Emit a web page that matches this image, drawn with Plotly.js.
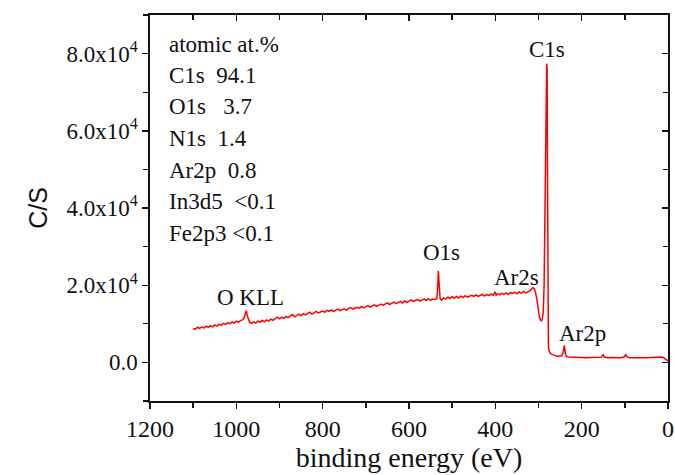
<!DOCTYPE html>
<html>
<head>
<meta charset="utf-8">
<script src="https://cdn.plot.ly/plotly-3.0.1.min.js"></script>
<style>
html,body{margin:0;padding:0;background:#fff;}
#chart{width:675px;height:475px;}
#chart text{font-family:"Liberation Serif","Times New Roman",serif !important;}
#chart .g-ytitle text{font-family:"Liberation Sans",Arial,sans-serif !important;}
</style>
</head>
<body>
<div id="chart"></div>
<script>
// binding energy (eV)
const energy = [
1100,1095,1090,1085,1080,1075,1070,1065,1060,1055,1050,1045,1040,1035,1030,1025,1020,1015,1010,1005,
1000,995,990,985,982,979,977,975,972,969,965,960,955,950,945,940,935,930,925,920,915,910,905,900,
895,890,885,880,875,870,865,860,855,850,845,840,835,830,825,820,815,810,805,800,795,790,785,780,
775,770,765,760,755,750,745,740,735,730,725,720,715,710,705,700,695,690,685,680,675,670,665,660,
655,650,645,640,635,630,625,620,615,610,605,600,595,590,585,580,575,570,565,560,555,550,545,540,
536,534,532,530,528,525,520,515,510,505,500,495,490,485,480,475,470,465,460,455,450,445,440,435,
430,425,420,415,410,405,401,398,395,390,385,380,375,370,365,360,355,350,345,340,335,330,325,320,
316,313,310,307,304,301,298,295,293,291,289,287,285,283,281,280,279,278,277,275,272,268,264,260,
255,250,246,243,240,238,235,230,220,210,200,190,180,170,160,155,152,150,148,140,130,120,110,102,
98,95,90,80,70,60,50,40,30,22,15,10,5,2,0];
// counts per second (x10^3)
const countsK = [
8.8,8.6,9.1,8.8,9.2,8.9,9.4,9.1,9.5,9.2,9.7,9.4,9.9,9.6,10.1,9.8,10.3,10.0,10.5,10.2,
10.7,10.4,10.9,11.0,11.6,13.0,13.4,12.2,11.0,10.3,10.1,10.5,10.2,10.7,10.4,10.9,10.5,11.0,10.7,11.2,10.9,11.4,11.7,11.3,
11.7,11.4,11.9,11.6,12.1,12.4,11.8,12.2,12.5,12.1,12.6,12.3,12.7,13.0,12.5,12.9,13.2,12.8,13.1,13.3,13.0,13.5,13.2,13.6,
13.2,13.5,13.8,13.4,13.7,13.9,13.5,14.0,14.2,13.8,14.1,14.3,14.0,14.5,14.1,14.4,14.7,14.3,14.6,14.9,14.5,14.8,15.1,14.8,
15.1,15.4,15.0,15.3,15.6,15.2,15.5,15.8,15.4,15.9,15.5,15.9,16.2,15.8,16.1,16.3,15.9,16.2,16.4,16.1,16.5,16.1,16.4,16.3,
16.5,18.5,23.7,20.0,16.6,16.1,16.7,16.4,16.9,16.5,17.0,16.6,17.1,16.7,17.2,16.8,17.3,16.9,17.2,17.4,17.1,17.5,17.1,17.4,
17.6,17.2,17.6,17.3,17.7,17.4,18.3,17.4,17.8,17.5,17.9,17.6,18.0,17.6,18.1,17.8,18.2,17.8,18.3,17.9,18.4,18.0,18.3,18.5,
19.0,19.4,19.1,18.2,16.5,14.0,11.8,10.9,10.8,11.4,13.0,20.0,38.0,62.0,77.4,76.0,45.0,12.0,4.0,2.8,2.3,2.0,1.8,1.7,
1.6,1.6,1.7,2.5,4.4,2.3,1.5,1.4,1.3,1.3,1.25,1.2,1.25,1.2,1.2,1.3,1.8,2.0,1.4,1.2,1.25,1.2,1.2,1.4,
2.0,1.4,1.2,1.2,1.15,1.2,1.2,1.25,1.3,1.5,1.4,1.2,0.8,0.5,0.4];
const counts = countsK.map(v => v * 1000);

const yTickVals = [0, 20000, 40000, 60000, 80000];
const yTickText = ['0.0', '2.0x10<sup>4</sup>', '4.0x10<sup>4</sup>', '6.0x10<sup>4</sup>', '8.0x10<sup>4</sup>'];
const yMinorVals = [-10000, 10000, 30000, 50000, 70000, 90000];

const statLines = ['atomic at.%', 'C1s\u00a0\u00a094.1', 'O1s\u00a0\u00a0\u00a03.7', 'N1s\u00a0\u00a01.4',
                   'Ar2p\u00a0\u00a00.8', 'In3d5\u00a0\u00a0<0.1', 'Fe2p3\u00a0<0.1'];
const peakLabels = ['C1s', 'O1s', 'Ar2s', 'Ar2p', 'O KLL'];
const peakLabelX = [280, 524, 350, 199, 968];
const peakLabelY = [81000, 28400, 21900, 7500, 16800];

const serif = 'Liberation Serif';
const sans = 'Liberation Sans';
const annotations = [];
statLines.forEach((t, i) => {
  annotations.push({xref: 'paper', yref: 'paper', x: 0.033, y: (401 - (44 + i * 31.5)) / 386,
    xanchor: 'left', yanchor: 'middle', text: t, showarrow: false,
    font: {family: serif, size: 23, color: '#111'}});
});
peakLabels.forEach((t, i) => {
  annotations.push({xref: 'x', yref: 'y', x: peakLabelX[i], y: peakLabelY[i],
    xanchor: 'center', yanchor: 'middle', text: t, showarrow: false,
    font: {family: serif, size: 23, color: '#111'}});
});

const axisCommon = {showline: true, linecolor: '#111', linewidth: 1.6, showgrid: false, zeroline: false,
  tickcolor: '#111', tickwidth: 1.4, ticklen: 6};

const layout = {
  width: 675, height: 475,
  margin: {l: 150, r: 7, t: 15, b: 74},
  paper_bgcolor: '#fff', plot_bgcolor: '#fff',
  showlegend: false,
  font: {family: serif, color: '#111'},
  xaxis: Object.assign({}, axisCommon, {
    range: [1200, 0], tickmode: 'linear', tick0: 0, dtick: 200, ticks: 'outside',
    minor: {dtick: 100, tick0: 0, ticks: 'outside', ticklen: 5, tickcolor: '#111', tickwidth: 1.4},
    tickfont: {family: serif, size: 24, color: '#111'},
    title: {text: 'binding energy (eV)', font: {family: serif, size: 28, color: '#111'}, standoff: 4}
  }),
  yaxis: Object.assign({}, axisCommon, {
    range: [-10000, 90000], tickmode: 'array', tickvals: yTickVals, ticktext: yTickText, ticks: 'outside',
    minor: {tickmode: 'array', tickvals: yMinorVals, ticks: 'outside', ticklen: 5, tickcolor: '#111', tickwidth: 1.4},
    tickfont: {family: serif, size: 23, color: '#111'},
    title: {text: 'C/S', font: {family: sans, size: 25, color: '#111'}, standoff: 12}
  }),
  xaxis2: Object.assign({}, axisCommon, {
    overlaying: 'x', side: 'top', anchor: 'y', range: [1200, 0], tickmode: 'linear', tick0: 0, dtick: 200,
    ticks: 'inside', showticklabels: false,
    minor: {dtick: 100, tick0: 0, ticks: 'inside', ticklen: 5, tickcolor: '#111', tickwidth: 1.4}
  }),
  yaxis2: Object.assign({}, axisCommon, {
    overlaying: 'y', side: 'right', anchor: 'x', range: [-10000, 90000], tickmode: 'array', tickvals: yTickVals,
    ticks: 'inside', showticklabels: false,
    minor: {tickmode: 'array', tickvals: yMinorVals, ticks: 'inside', ticklen: 5, tickcolor: '#111', tickwidth: 1.4}
  }),
  annotations: annotations
};

const traces = [
  {x: energy, y: counts, type: 'scatter', mode: 'lines', line: {color: '#ff0000', width: 1.5}, hoverinfo: 'skip'},
  {x: [], y: [], xaxis: 'x2', yaxis: 'y2', type: 'scatter', mode: 'lines', hoverinfo: 'skip'}
];

Plotly.newPlot('chart', traces, layout, {staticPlot: true, displayModeBar: false});
</script>
</body>
</html>
